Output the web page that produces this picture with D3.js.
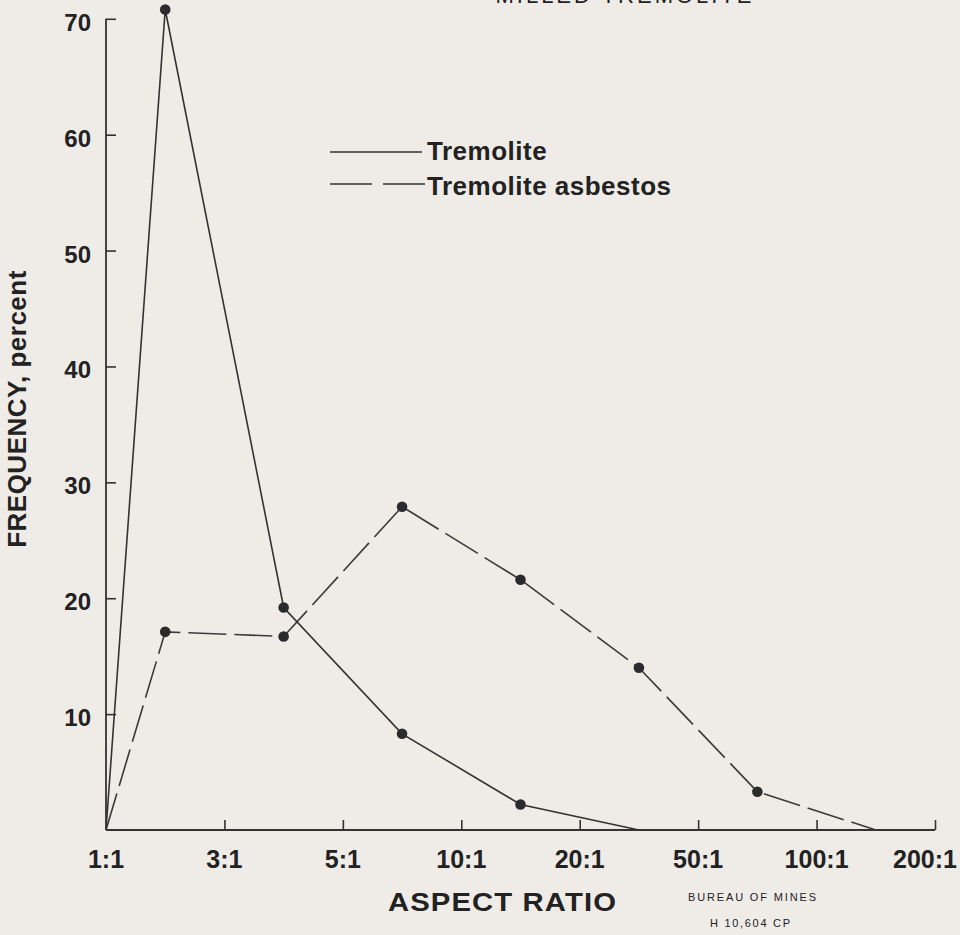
<!DOCTYPE html>
<html><head><meta charset="utf-8">
<script src="https://cdn.jsdelivr.net/npm/d3@7"></script>
<style>
html,body{margin:0;padding:0;background:#efece8;}
svg{display:block;}
text{font-family:"Liberation Sans",Arial,Helvetica,sans-serif;font-weight:bold;fill:#222;}
</style></head>
<body>
<script>
// ---- data ----
const xTickLabels = ["1:1","3:1","5:1","10:1","20:1","50:1","100:1","200:1"];
const yTickValues = [10,20,30,40,50,60,70];
// bin positions (in tick-index units) of each plotted point
const tremolitePos = [0, 0.5, 1.5, 2.5, 3.5, 4.5];
const tremoliteVal = [0, 70.8, 19.2, 8.3, 2.2, 0];
const asbestosPos  = [0, 0.5, 1.5, 2.5, 3.5, 4.5, 5.5, 6.5];
const asbestosVal  = [0, 17.1, 16.7, 27.9, 21.6, 14.0, 3.3, 0];
const seriesNames = ["Tremolite","Tremolite asbestos"];
const titleText = "MILLED TREMOLITE";
const xTitle = "ASPECT RATIO";
const yTitle = "FREQUENCY, percent";
const creditLines = ["BUREAU OF MINES","H 10,604 CP"];

// ---- layout ----
const W = 960, H = 935;
const svg = d3.select("body").append("svg").attr("width", W).attr("height", H);
const x = d3.scaleLinear().domain([0, xTickLabels.length - 1]).range([106, 935]);
const y = d3.scaleLinear().domain([0, 70]).range([830, 18.8]);
const ink = "#333";

// top title (cut off by the page edge in the reference)
svg.append("text").attr("x", 625).attr("y", 3).attr("text-anchor","middle")
  .style("font-size","22px").style("font-weight","normal").style("letter-spacing","3px")
  .attr("fill","#555").text(titleText);

// y axis
const yAxis = d3.axisRight(y).tickValues(yTickValues).tickSize(10).tickFormat("");
const gy = svg.append("g").attr("transform", `translate(${x(0)},0)`).call(yAxis);
gy.select(".domain").attr("d", `M0,${y(0)}V${y(70)}`).attr("stroke", ink).attr("stroke-width", 1.8);
gy.selectAll(".tick line").attr("stroke", ink).attr("stroke-width", 1.6);
svg.append("g").selectAll("text").data(yTickValues).join("text")
  .attr("x", 91).attr("y", d => y(d) + 12).attr("text-anchor","end")
  .style("font-size","24px").text(d => d);

// x axis
const xAxis = d3.axisTop(x).tickValues(d3.range(1, xTickLabels.length)).tickSize(10).tickFormat("");
const gx = svg.append("g").attr("transform", `translate(0,${y(0)})`).call(xAxis);
gx.select(".domain").attr("d", `M${x(0)},0H${x(xTickLabels.length-1)}`).attr("stroke", ink).attr("stroke-width", 1.8);
gx.selectAll(".tick line").attr("stroke", ink).attr("stroke-width", 1.6);
const last = xTickLabels.length - 1;
svg.append("g").selectAll("text").data(xTickLabels).join("text")
  .attr("x", (d,i) => i === last ? x(i) - 10 : x(i)).attr("y", 868).attr("text-anchor","middle")
  .style("font-size","25px").text(d => d);

// axis titles
svg.append("text").attr("x", 388).attr("y", 911)
  .attr("textLength", 229).attr("lengthAdjust","spacingAndGlyphs")
  .style("font-size","26px").style("letter-spacing","1px").text(xTitle);
svg.append("text").attr("transform","translate(26,409) rotate(-90)").attr("text-anchor","middle")
  .style("font-size","26px").style("letter-spacing","0.5px").text(yTitle);

// credit
svg.append("text").attr("x", 688).attr("y", 901).attr("textLength", 128).attr("lengthAdjust","spacing")
  .style("font-size","11px").style("font-weight","normal").text(creditLines[0]);
svg.append("text").attr("x", 710).attr("y", 927).attr("textLength", 80).attr("lengthAdjust","spacing")
  .style("font-size","11px").style("font-weight","normal").text(creditLines[1]);

// lines
const line = d3.line().x(d => x(d[0])).y(d => y(d[1]));
const trem = tremolitePos.map((p,i) => [p, tremoliteVal[i]]);
const asb = asbestosPos.map((p,i) => [p, asbestosVal[i]]);
svg.append("path").datum(asb).attr("d", line).attr("fill","none")
  .attr("stroke", "#3a3a3a").attr("stroke-width", 1.6).attr("stroke-dasharray","38,8");
svg.append("path").datum(trem).attr("d", line).attr("fill","none")
  .attr("stroke", "#333").attr("stroke-width", 1.6);

// markers (interior points only)
svg.append("g").selectAll("circle").data(trem.slice(1, -1).concat(asb.slice(1, -1))).join("circle")
  .attr("cx", d => x(d[0])).attr("cy", d => y(d[1])).attr("r", 5.3).attr("fill", "#2b2b2e");

// legend
const lg = svg.append("g");
lg.append("line").attr("x1",330).attr("x2",422).attr("y1",152).attr("y2",152)
  .attr("stroke", ink).attr("stroke-width",1.6);
lg.append("text").attr("x",427).attr("y",160).style("font-size","26px").style("letter-spacing","0.5px").text(seriesNames[0]);
lg.append("line").attr("x1",330).attr("x2",426).attr("y1",184).attr("y2",184)
  .attr("stroke", ink).attr("stroke-width",1.6).attr("stroke-dasharray","42,11");
lg.append("text").attr("x",427).attr("y",195).style("font-size","26px").style("letter-spacing","0.5px").text(seriesNames[1]);
</script>
</body></html>
